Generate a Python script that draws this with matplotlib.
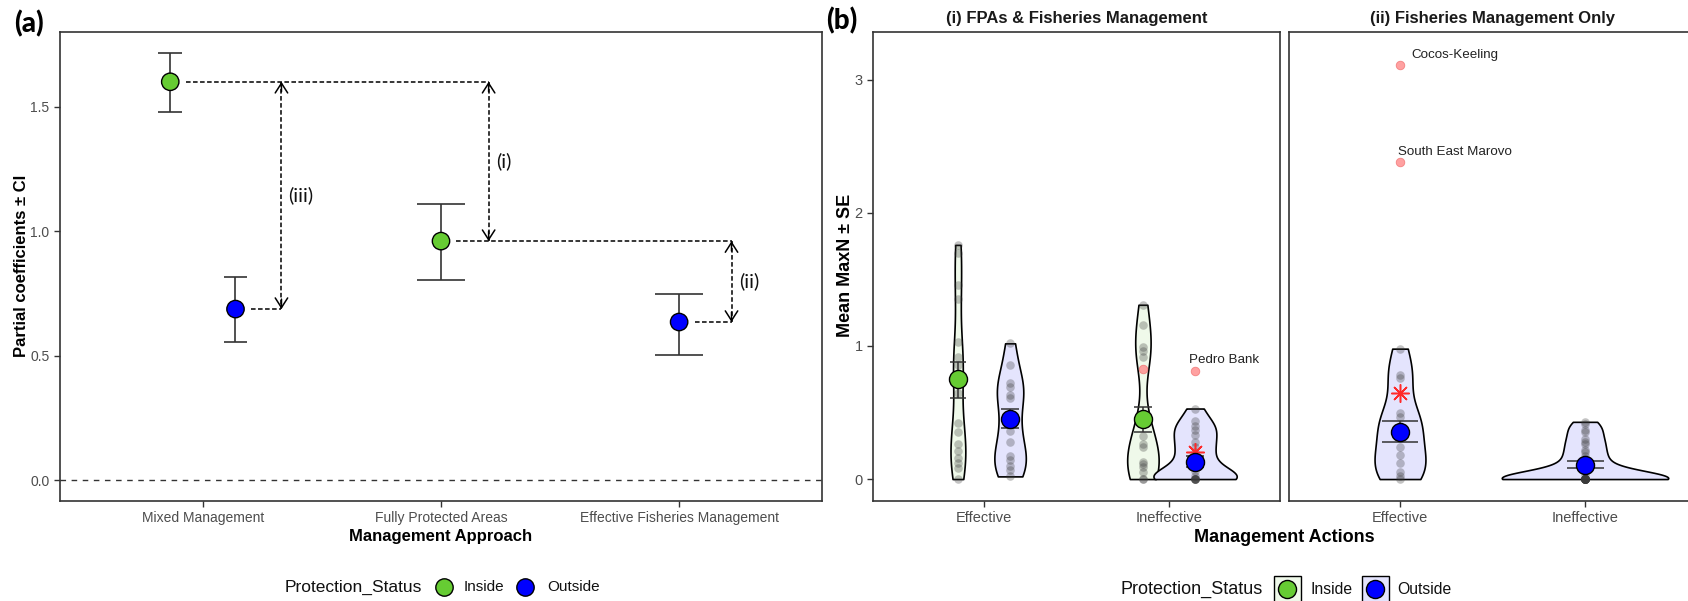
import numpy as np
import matplotlib.pyplot as plt
from matplotlib.lines import Line2D
from matplotlib.patches import Rectangle

plt.rcParams['font.family'] = ['Liberation Sans', 'DejaVu Sans']

W, H = 1688, 601

# ==========================================
# Panel (a) data: partial coefficients +- CI
# ==========================================
approaches = ['Mixed Management', 'Fully Protected Areas', 'Effective Fisheries Management']
a_approach = [0, 0, 1, 2]
a_status = ['Inside', 'Outside', 'Inside', 'Outside']
a_coef = [1.60, 0.687, 0.96, 0.635]
a_lower = [1.48, 0.554, 0.803, 0.502]
a_upper = [1.715, 0.815, 1.11, 0.747]

# dashed double arrows between pairs of estimates
comparisons = [('(iii)', 0, 1), ('(i)', 0, 2), ('(ii)', 2, 3)]
bracket_x = [0.33, 1.20, 2.22]

# ==========================================
# Panel (b) data: mean MaxN per site
# ==========================================
facets = ['(i) FPAs & Fisheries Management', '(ii) Fisheries Management Only']
actions = ['Effective', 'Ineffective']

fpa_eff_in = [1.76, 1.70, 1.46, 1.35, 1.03, 0.92, 0.86, 0.78, 0.65, 0.42,
              0.35, 0.26, 0.21, 0.16, 0.12, 0.08, 0.0]
fpa_eff_out = [1.02, 0.86, 0.72, 0.69, 0.63, 0.61, 0.44, 0.36, 0.28, 0.17,
               0.14, 0.10, 0.07, 0.02]
fpa_ineff_in = [1.31, 1.16, 0.99, 0.96, 0.92, 0.45, 0.32, 0.26, 0.24, 0.13,
                0.11, 0.09, 0.05, 0.0, 0.0]
fpa_ineff_out = [0.53, 0.44, 0.40, 0.37, 0.33, 0.28, 0.24, 0.20, 0.15, 0.10,
                 0.06, 0.02, 0.0, 0.0, 0.0, 0.0, 0.0, 0.0]
fm_eff_out = [0.98, 0.78, 0.76, 0.50, 0.47, 0.40, 0.35, 0.24, 0.18, 0.12,
              0.05, 0.02, 0.0]
fm_ineff_out = [0.43, 0.41, 0.37, 0.35, 0.30, 0.28, 0.26, 0.22, 0.20, 0.17,
                0.15, 0.12, 0.10, 0.08, 0.05, 0.03, 0.0, 0.0, 0.0, 0.0, 0.0,
                0.0, 0.0, 0.0, 0.0, 0.0, 0.0, 0.0, 0.0, 0.0, 0.0, 0.0, 0.0, 0.0]

b_facet = [0, 0, 0, 0, 1, 1]
b_action = [0, 0, 1, 1, 0, 1]
b_status = ['Inside', 'Outside', 'Inside', 'Outside', 'Outside', 'Outside']
b_values = [fpa_eff_in, fpa_eff_out, fpa_ineff_in, fpa_ineff_out, fm_eff_out, fm_ineff_out]
b_mean = [0.75, 0.45, 0.45, 0.13, 0.35, 0.105]
b_se_lo = [0.61, 0.38, 0.35, 0.09, 0.28, 0.085]
b_se_hi = [0.88, 0.53, 0.54, 0.17, 0.44, 0.135]

# outlier sites (red) and mean including outliers (red asterisk)
out_facet = [0, 0, 1, 1]
out_action = [1, 1, 0, 0]
out_status = ['Inside', 'Outside', 'Outside', 'Outside']
out_value = [0.83, 0.81, 2.38, 3.11]
out_site = ['', 'Pedro Bank', 'South East Marovo', 'Cocos-Keeling']

star_facet = [0, 1]
star_action = [1, 0]
star_value = [0.20, 0.65]

# ---- styles ----
status_col = {'Inside': '#66CC33', 'Outside': '#0000FF'}
status_fill = {'Inside': '#EFF9EA', 'Outside': '#E4E4FD'}
violin_w = [0.08, 0.17, 0.17, 0.45, 0.275, 0.90]
violin_bw = [0.35, 0.45, 0.40, 0.40, 0.45, 0.40]
cap_w = [0.09, 0.10, 0.10, 0.10, 0.19, 0.20]
label_off = [(0, 0), (-6, 11), (-2, 10), (11, 10)]   # px offsets of site labels
dodge_a = 0.137
dodge_b = 0.141
axis_col = '#333333'

fig = plt.figure(figsize=(W / 100, H / 100), dpi=100)


def box(l, t, r, b):
    return fig.add_axes([l / W, 1 - b / H, (r - l) / W, (b - t) / H])


def fx(x):
    return x / W


def fy(y):
    return 1 - y / H


def style_axes(ax, size):
    for s in ax.spines.values():
        s.set_color(axis_col)
        s.set_linewidth(1.2)
    ax.tick_params(colors=axis_col, labelcolor='#4D4D4D', length=4, width=1,
                   labelsize=size)


def dodge_x(groups, k, pos, off):
    same = [g for g in groups if g == groups[k]]
    if len(same) == 1:
        return pos
    return pos - off if k == groups.index(groups[k]) else pos + off


# ==========================================
# Panel (a)
# ==========================================
axA = box(60, 32, 822, 501)
style_axes(axA, 10)
axA.set_xlim(-0.6, 2.6)
axA.set_ylim(-0.084, 1.80)
axA.set_xticks(range(len(approaches)))
axA.set_xticklabels(approaches)
axA.set_yticks([0.0, 0.5, 1.0, 1.5])
axA.set_yticklabels(['0.0', '0.5', '1.0', '1.5'])
axA.axhline(0, color=axis_col, lw=1, ls=(0, (4, 4)), zorder=1)

a_x = []
for k in range(len(a_coef)):
    a_x.append(dodge_x(a_approach, k, a_approach[k], dodge_a))

for k in range(len(a_coef)):
    single = a_approach.count(a_approach[k]) == 1
    cw = 0.2 if single else 0.1
    axA.vlines(a_x[k], a_lower[k], a_upper[k], color=axis_col, lw=1.2, zorder=3)
    axA.hlines([a_lower[k], a_upper[k]], a_x[k] - cw / 2, a_x[k] + cw / 2,
               color=axis_col, lw=1.2, zorder=3)

axA.scatter(a_x, a_coef, s=12.5 ** 2, c=[status_col[s] for s in a_status],
            edgecolors='black', linewidths=1, zorder=5)

dash = (0, (3, 1.6))
reach = {}
for (lab, i, j), bx in zip(comparisons, bracket_x):
    for k in (i, j):
        reach[k] = max(reach.get(k, -9), bx)
for k, bx in reach.items():
    axA.plot([a_x[k] + 0.065, bx], [a_coef[k], a_coef[k]], color='black',
             lw=1.1, ls=dash, zorder=2)

head = dict(arrowstyle='->,head_length=0.5,head_width=0.32', color='black',
            lw=1.1, mutation_scale=14, shrinkA=0, shrinkB=0)
for (lab, i, j), bx in zip(comparisons, bracket_x):
    y1, y2 = a_coef[i], a_coef[j]
    axA.plot([bx, bx], [y1, y2], color='black', lw=1.1, ls=dash, zorder=2)
    for ya, yb in ((y1, y2), (y2, y1)):
        step = 0.04 if yb > ya else -0.04
        axA.annotate('', xy=(bx, ya), xytext=(bx, ya + step), arrowprops=head)
    axA.text(bx + 0.03, (y1 + y2) / 2, lab, family=['Lato', 'DejaVu Sans'],
             fontsize=14.5, va='center', ha='left', color='#111111')

fig.text(fx(441), fy(537), 'Management Approach', ha='center', va='center',
         fontsize=12, fontweight='bold')
fig.text(fx(22), fy(266), 'Partial coefficients \u00b1 CI', ha='center',
         va='center', rotation=90, fontsize=12, fontweight='bold')
fig.text(fx(14), fy(24), '(a)', family=['Lato', 'DejaVu Sans'], fontsize=20,
         fontweight='black', ha='left', va='center')

# legend (a)
fig.text(fx(285), fy(587), 'Protection_Status', fontsize=12.5, ha='left',
         va='center', color='#111111')
for st, cx, tx in (('Inside', 444, 464), ('Outside', 525, 547)):
    fig.add_artist(Line2D([fx(cx)], [fy(587)], transform=fig.transFigure,
                          marker='o', ms=12.5, mfc=status_col[st], mec='black',
                          mew=1, ls=''))
    fig.text(fx(tx), fy(587), st, fontsize=11, ha='left', va='center',
             color='#111111')

# ==========================================
# Panel (b)
# ==========================================
axF = [box(873, 32, 1280, 501), box(1289, 32, 1696, 501)]
for f, ax in enumerate(axF):
    style_axes(ax, 10.5)
    ax.set_xlim(-0.6, 1.6)
    ax.set_ylim(-0.165, 3.36)
    ax.set_xticks(range(len(actions)))
    ax.set_xticklabels(actions)
    ax.set_yticks([0, 1, 2, 3])
    ax.set_yticklabels(['0', '1', '2', '3'])
axF[1].tick_params(axis='y', left=False, labelleft=False)

cell = [(b_facet[k], b_action[k]) for k in range(len(b_mean))]


def cell_x(fc, ac, st):
    sts = [b_status[k] for k in range(len(cell)) if cell[k] == (fc, ac)]
    if len(sts) == 1:
        return ac
    return ac - dodge_b if st == 'Inside' else ac + dodge_b


for k in range(len(b_mean)):
    ax = axF[b_facet[k]]
    x = cell_x(b_facet[k], b_action[k], b_status[k])
    vals = np.array(b_values[k])
    parts = ax.violinplot([vals], positions=[x], widths=[violin_w[k]],
                          showextrema=False, bw_method=violin_bw[k])
    body = parts['bodies'][0]
    body.set_facecolor(status_fill[b_status[k]])
    body.set_edgecolor('black')
    body.set_linewidth(1.2)
    body.set_alpha(1)
    body.set_zorder(1)
    ax.scatter(np.full(len(vals), x), vals, s=38, color='#3a3a3a', alpha=0.3,
               linewidths=0, zorder=2)
    ax.vlines(x, b_se_lo[k], b_se_hi[k], color=axis_col, lw=1.1, zorder=3)
    ax.hlines([b_se_lo[k], b_se_hi[k]], x - cap_w[k] / 2, x + cap_w[k] / 2,
              color=axis_col, lw=1.1, zorder=3)
    ax.scatter([x], [b_mean[k]], s=13 ** 2, c=status_col[b_status[k]],
               edgecolors='black', linewidths=1, zorder=6)

for k in range(len(out_value)):
    ax = axF[out_facet[k]]
    x = cell_x(out_facet[k], out_action[k], out_status[k])
    ax.scatter([x], [out_value[k]], s=38, color='#FF8A8A', edgecolors='#F07070',
               linewidths=0.6, alpha=0.8, zorder=4)
    if out_site[k]:
        dx, dy = label_off[k]
        ax.annotate(out_site[k], (x, out_value[k]), xytext=(dx * 0.72, dy * 0.72),
                    textcoords='offset points', ha='left', va='center',
                    fontsize=9.6, color='#222222')

for k in range(len(star_value)):
    ax = axF[star_facet[k]]
    x = cell_x(star_facet[k], star_action[k], 'Outside')
    ax.plot([x], [star_value[k]], marker=(8, 2, 0), ms=13, mec='#FF2A2A',
            mew=1.1, ls='', zorder=5)

for f, ax in enumerate(axF):
    fig.text((ax.get_position().x0 + ax.get_position().x1) / 2, fy(18), facets[f],
             ha='center', va='center', fontsize=12, fontweight='bold',
             color='#1A1A1A')

fig.text(fx(1284), fy(537), 'Management Actions', ha='center', va='center',
         fontsize=13, fontweight='bold')
fig.text(fx(845), fy(265), 'Mean MaxN \u00b1 SE', ha='center', va='center',
         rotation=90, fontsize=13, fontweight='bold')
fig.text(fx(826), fy(21), '(b)', family=['Lato', 'DejaVu Sans'], fontsize=20,
         fontweight='black', ha='left', va='center')

# legend (b)
fig.text(fx(1120), fy(589), 'Protection_Status', fontsize=13, ha='left',
         va='center', color='#111111')
for st, cx, tx in (('Inside', 1287, 1310), ('Outside', 1375, 1397)):
    fig.add_artist(Rectangle((fx(cx - 13.5), fy(589 + 13.5)), fx(27), 27 / H,
                             transform=fig.transFigure,
                             facecolor=status_fill[st], edgecolor='black', lw=1))
    fig.add_artist(Line2D([fx(cx)], [fy(589)], transform=fig.transFigure,
                          marker='o', ms=13, mfc=status_col[st], mec='black',
                          mew=1, ls=''))
    fig.text(fx(tx), fy(589), st, fontsize=11.3, ha='left', va='center',
             color='#111111')

fig.savefig('out.png', dpi=100)
